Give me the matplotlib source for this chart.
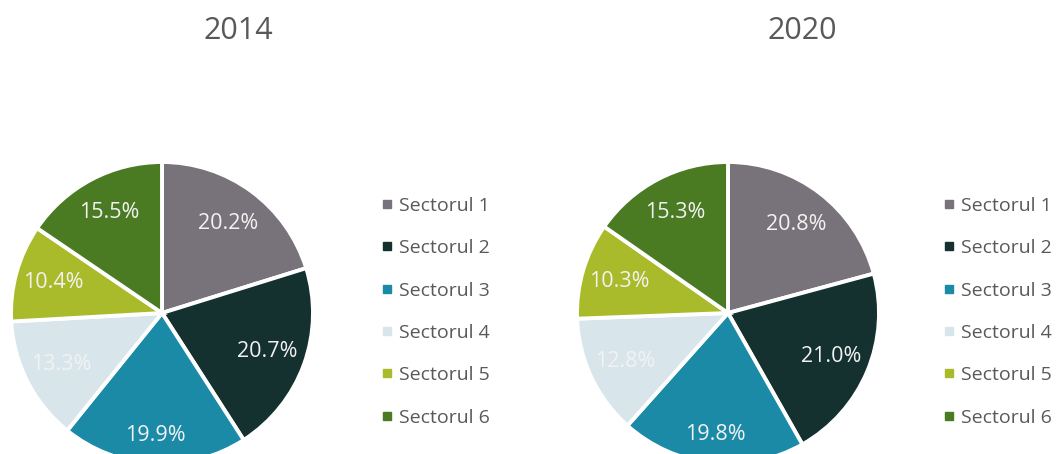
import numpy as np
import matplotlib
matplotlib.use("Agg")
import matplotlib.pyplot as plt
from matplotlib.lines import Line2D

plt.rcParams['font.family'] = ['Open Sans', 'DejaVu Sans']

sectors = ["Sectorul 1", "Sectorul 2", "Sectorul 3", "Sectorul 4", "Sectorul 5", "Sectorul 6"]
years = ["2014", "2020"]
shares_2014 = [20.2, 20.7, 19.9, 13.3, 10.4, 15.5]
shares_2020 = [20.8, 21.0, 19.8, 12.8, 10.3, 15.3]
colors = ["#78737a", "#14302f", "#1a8aa6", "#d8e6ec", "#a9bb2a", "#4a7a22"]
# radial position of each percentage label, as a fraction of the radius
label_radius = [0.74, 0.74, 0.81, 0.75, 0.75, 0.75]

W, H = 1057, 454
fig = plt.figure(figsize=(W / 100, H / 100), dpi=100)
fig.patch.set_facecolor("white")

R = 151  # pie radius in pixels
panels = [
    dict(year=years[0], values=shares_2014, cx=162, cy=313, title_x=238, leg_x=381),
    dict(year=years[1], values=shares_2020, cx=728, cy=313, title_x=802, leg_x=943),
]

for p in panels:
    ax = fig.add_axes([(p["cx"] - R) / W, (H - p["cy"] - R) / H, 2 * R / W, 2 * R / H])
    wedges, _ = ax.pie(p["values"], colors=colors, startangle=90, counterclock=False,
                       radius=1.0, wedgeprops=dict(edgecolor="white", linewidth=2.8))
    ax.set_xlim(-1, 1)
    ax.set_ylim(-1, 1)
    ax.axis("off")
    for w, v, r in zip(wedges, p["values"], label_radius):
        ang = np.deg2rad((w.theta1 + w.theta2) / 2)
        ax.text(r * np.cos(ang), r * np.sin(ang), f"{v:.1f}%", ha="center", va="center",
                fontsize=15.5, color="#f2f2f2")

    fig.text(p["title_x"] / W, 1 - 31 / H, p["year"], ha="center", va="center",
             fontsize=22, color="#595959")

    handles = [Line2D([], [], marker="s", linestyle="none", markersize=5.5,
                      markerfacecolor=c, markeredgecolor=c) for c in colors]
    fig.legend(handles, sectors, loc="upper left",
               bbox_to_anchor=(p["leg_x"] / W, 1 - 197 / H),
               frameon=False, fontsize=14, labelcolor="#595959",
               handlelength=0.6, handletextpad=0.35, labelspacing=1.25,
               borderpad=0, borderaxespad=0)

fig.savefig("out.png", dpi=100, facecolor="white")
